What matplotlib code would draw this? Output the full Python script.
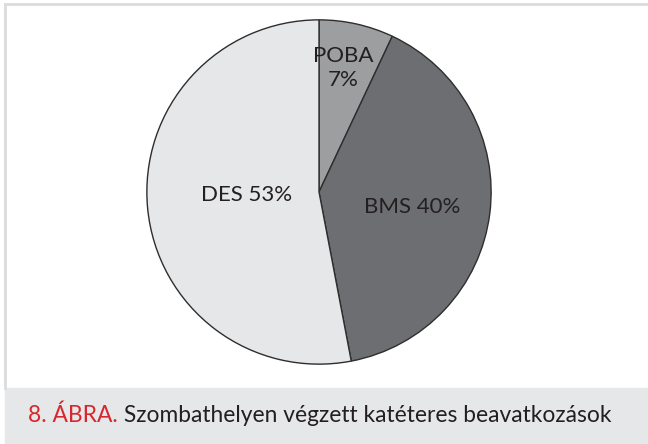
import matplotlib.pyplot as plt
from matplotlib.patches import Rectangle
from matplotlib.lines import Line2D

labels = ["POBA\n7%", "BMS 40%", "DES 53%"]
values = [7, 40, 53]
colors = ["#9d9ea0", "#6d6e71", "#e6e7e8"]
label_pos = [(0.14, 0.72), (0.54, -0.09), (-0.42, -0.02)]

caption_red = "8. ÁBRA."
caption_text = " Szombathelyen végzett katéteres beavatkozások"

W, H = 648, 444
fig = plt.figure(figsize=(W / 100, H / 100), dpi=100)
fig.patch.set_facecolor("white")

# light frame lines and caption band
fig.add_artist(Line2D([5 / W, 1], [1 - 4 / H, 1 - 4 / H], color="#dcdcdc", lw=2))
fig.add_artist(Line2D([5 / W, 5 / W], [1 - 4 / H, 56 / H], color="#dcdcdc", lw=2))
fig.add_artist(Rectangle((5 / W, 0), 1, 56 / H, color="#e6e7e8", transform=fig.transFigure))

ax = fig.add_axes([146 / W, (H - 365) / H, 346 / W, 346 / H])
ax.pie(values, colors=colors, startangle=90, counterclock=False,
       wedgeprops=dict(edgecolor="#2e2e2e", linewidth=1.0))
ax.set_xlim(-1.005, 1.005)
ax.set_ylim(-1.005, 1.005)
ax.set_aspect("equal")
ax.axis("off")

for lab, (x, y) in zip(labels, label_pos):
    ax.text(x, y, lab, ha="center", va="center", fontsize=16, family="Lato",
            color="#231f20", linespacing=1.2)

t = fig.text(28 / W, 22 / H, caption_red, color="#d7262e", fontsize=16.4,
             family="Lato", va="baseline")
fig.canvas.draw()
bb = t.get_window_extent()
fig.text(bb.x1 / W, 22 / H, caption_text, color="#231f20", fontsize=16.4,
         family="Lato", va="baseline")

fig.savefig("out.png", dpi=100)
